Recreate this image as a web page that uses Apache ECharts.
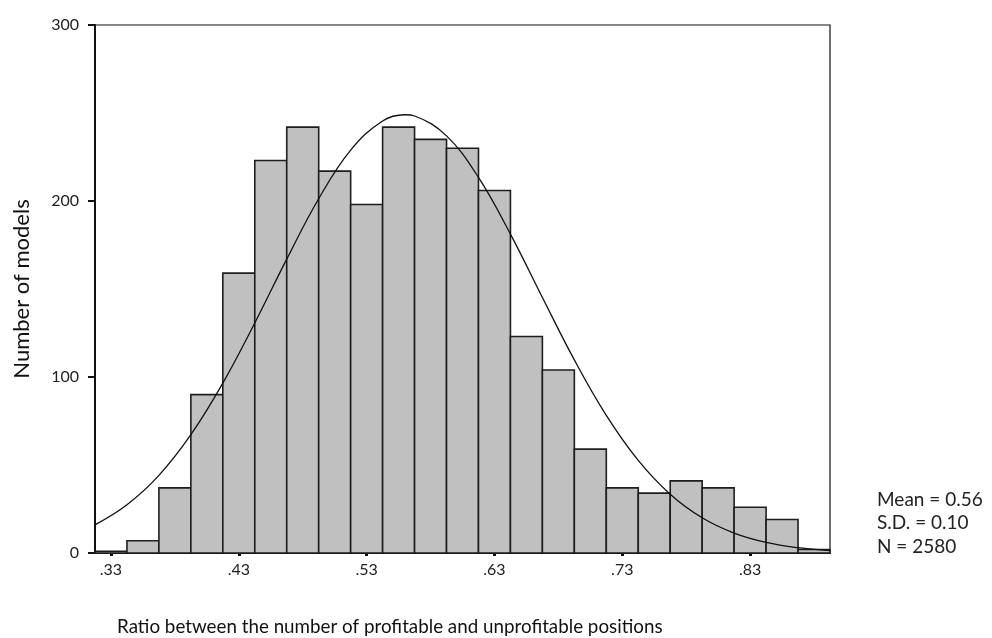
<!DOCTYPE html>
<html>
<head>
<meta charset="utf-8">
<style>
  html, body { margin: 0; padding: 0; background: #fff; }
  #chart { width: 992px; height: 638px; }
</style>
<script src="https://cdn.jsdelivr.net/npm/echarts@6/dist/echarts.min.js"></script>
</head>
<body>
<div id="chart"></div>
<script>
// Histogram bin edges (ratio) and the number of models in each bin
const binEdges = [0.3175, 0.3425, 0.3675, 0.3925, 0.4175, 0.4425, 0.4675, 0.4925,
  0.5175, 0.5425, 0.5675, 0.5925, 0.6175, 0.6425, 0.6675, 0.6925, 0.7175, 0.7425,
  0.7675, 0.7925, 0.8175, 0.8425, 0.8675, 0.8925];
const counts = [1, 7, 37, 90, 159, 223, 242, 217, 198, 242, 235, 230, 206, 123,
  104, 59, 37, 34, 41, 37, 26, 19, 2];

// Fitted normal curve points (ratio, count)
const curveX = [0.3175, 0.3425, 0.3675, 0.3925, 0.4175, 0.4425, 0.4675, 0.4925,
  0.5175, 0.5425, 0.56, 0.5675, 0.5925, 0.6175, 0.6425, 0.6675, 0.6925, 0.7175,
  0.7425, 0.7675, 0.7925, 0.8175, 0.8425, 0.8675, 0.8925];
const curveY = [16.0, 27.4, 44.1, 67.2, 96.5, 130.7, 167.0, 201.3, 228.9, 245.5,
  249.0, 248.3, 237.0, 213.4, 181.2, 145.2, 109.7, 78.2, 52.6, 33.4, 20.0, 11.3,
  6.0, 3.0, 1.4];

// Axis tick positions
const xTicks = [0.33, 0.43, 0.53, 0.63, 0.73, 0.83];
const yTicks = [0, 100, 200, 300];

// Summary statistics and titles
const statLines = ['Mean = 0.56', 'S.D. = 0.10', 'N = 2580'];
const xTitle = 'Ratio between the number of profitable and unprofitable positions';
const yTitle = 'Number of models';

const FONT = 'Lato, "DejaVu Sans", sans-serif';

const bars = counts.map((c, i) => [binEdges[i], binEdges[i + 1], c]);
const curve = curveX.map((x, i) => [x, curveY[i]]);

const chart = echarts.init(document.getElementById('chart'), null, { renderer: 'canvas' });

chart.setOption({
  animation: false,
  backgroundColor: '#ffffff',
  grid: {
    left: 95, right: 162, top: 25, bottom: 85,
    containLabel: false,
    outerBoundsMode: 'none',
    show: true, borderColor: '#111', borderWidth: 1.2, backgroundColor: 'transparent'
  },
  xAxis: {
    type: 'value',
    min: binEdges[0],
    max: binEdges[binEdges.length - 1],
    axisLine: { show: true, onZero: false, lineStyle: { color: '#111', width: 2 } },
    axisTick: { show: true, customValues: xTicks, length: 3, lineStyle: { color: '#111', width: 3 } },
    axisLabel: {
      customValues: xTicks,
      formatter: v => '.' + Math.round(v * 100),
      fontFamily: FONT, fontSize: 16, color: '#222', margin: 9
    },
    splitLine: { show: false }
  },
  yAxis: {
    type: 'value',
    min: yTicks[0], max: yTicks[yTicks.length - 1], interval: 100,
    name: yTitle,
    nameLocation: 'middle',
    nameGap: 62,
    nameTextStyle: { fontFamily: FONT, fontSize: 22, color: '#111' },
    axisLine: { show: true, lineStyle: { color: '#111', width: 2 } },
    axisTick: { show: true, length: 7, lineStyle: { color: '#111', width: 2 } },
    axisLabel: { fontFamily: FONT, fontSize: 16, color: '#222', margin: 16 },
    splitLine: { show: false }
  },
  series: [
    {
      type: 'custom',
      data: bars,
      encode: { x: [0, 1], y: 2 },
      renderItem: function (params, api) {
        const p0 = api.coord([api.value(0), api.value(2)]);
        const p1 = api.coord([api.value(1), 0]);
        return {
          type: 'rect',
          shape: { x: p0[0], y: p0[1], width: p1[0] - p0[0], height: p1[1] - p0[1] },
          style: { fill: '#c0c0c0', stroke: '#1e1e1e', lineWidth: 1.6 }
        };
      },
      z: 2
    },
    {
      type: 'line',
      data: curve,
      smooth: 0.4,
      showSymbol: false,
      symbol: 'none',
      lineStyle: { color: '#111', width: 1.3 },
      z: 3
    }
  ],
  graphic: [
    {
      type: 'text',
      x: 117, y: 627,
      style: {
        text: xTitle, fontFamily: FONT, fontSize: 18.8, fill: '#111',
        align: 'left', verticalAlign: 'middle'
      }
    }
  ].concat(statLines.map((t, i) => ({
    type: 'text',
    x: 877,
    y: 499.5 + i * 23.5,
    style: {
      text: t, fontFamily: FONT, fontSize: 19, fill: '#222',
      align: 'left', verticalAlign: 'middle'
    }
  })))
});
</script>
</body>
</html>
